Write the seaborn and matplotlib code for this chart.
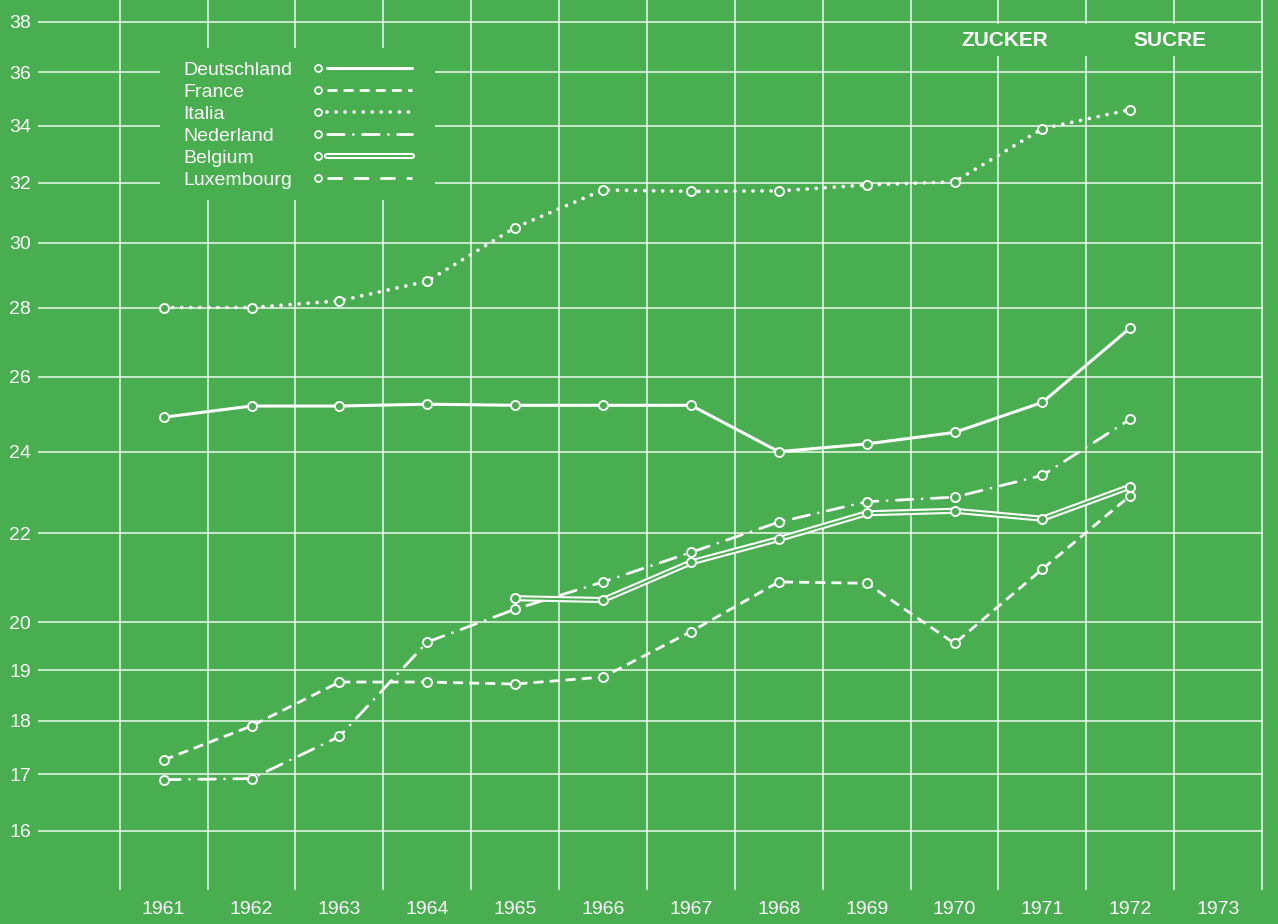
import numpy as np
import matplotlib
matplotlib.use("Agg")
import matplotlib.pyplot as plt
import seaborn as sns
from matplotlib.legend_handler import HandlerBase
from matplotlib.lines import Line2D
from matplotlib.patches import Rectangle
from matplotlib.ticker import FixedLocator, FixedFormatter, NullLocator

years = list(range(1961, 1973))
year_labels = [str(y) for y in range(1961, 1974)]
y_ticks = [16, 17, 18, 19, 20, 22, 24, 26, 28, 30, 32, 34, 36, 38]

deutschland = [24.9, 25.2, 25.2, 25.25, 25.22, 25.22, 25.22, 24.0, 24.2, 24.5, 25.3, 27.4]
france = [17.26, 17.9, 18.76, 18.76, 18.72, 18.86, 19.8, 20.88, 20.85, 19.55, 21.17, 22.9]
italia = [28.0, 28.0, 28.2, 28.8, 30.5, 31.75, 31.7, 31.72, 31.92, 32.03, 33.9, 34.6]
nederland = [16.9, 16.92, 17.7, 19.58, 20.28, 20.88, 21.55, 22.26, 22.75, 22.86, 23.4, 24.85]
belgium = [np.nan, np.nan, np.nan, np.nan, 20.52, 20.48, 21.32, 21.86, 22.47, 22.53, 22.34, 23.12]
series_names = ["Deutschland", "France", "Italia", "Nederland", "Belgium", "Luxembourg"]

BG = "#49ae50"
FG = "white"

sns.set_theme(style="white")
plt.rcParams["font.family"] = ["Liberation Sans", "DejaVu Sans"]

styles = {
    "Deutschland": dict(linestyle="-", lw=2.2),
    "France": dict(linestyle=(0, (3.6, 2.2)), lw=2.0),
    "Italia": dict(linestyle=(0, (0.01, 2.4)), lw=2.7, dash_capstyle="round"),
    "Nederland": dict(linestyle=(0, (6.0, 3.3, 0.01, 3.3)), lw=2.0, dash_capstyle="round"),
    "Belgium": dict(linestyle="-", lw=1.4),
    "Luxembourg": dict(linestyle=(0, (5.5, 4.0)), lw=2.0),
}
marker_kw = dict(marker="o", markersize=6.5, markeredgewidth=1.4,
                 markerfacecolor=BG, markeredgecolor=FG)

fig = plt.figure(figsize=(12.78, 9.24), dpi=100)
fig.patch.set_facecolor(BG)
ax = fig.add_axes([38 / 1278, 34 / 924, 1225 / 1278, 890 / 924])
ax.set_facecolor(BG)

for name, values in [("Deutschland", deutschland), ("France", france),
                     ("Italia", italia), ("Nederland", nederland)]:
    st = styles[name]
    sns.lineplot(x=years, y=values, ax=ax, color=FG, linestyle=st["linestyle"],
                 linewidth=st["lw"], dash_capstyle=st.get("dash_capstyle", "butt"),
                 errorbar=None, zorder=5, **marker_kw)

# Belgium: double line (white stroke with green core)
sns.lineplot(x=years, y=belgium, ax=ax, color=FG, linewidth=4.4, errorbar=None, zorder=5)
sns.lineplot(x=years, y=belgium, ax=ax, color=BG, linewidth=1.4, errorbar=None,
             zorder=6, **marker_kw)

ax.set_yscale("log")
ax.set_ylim(15.02, 38.9)
ax.set_xlim(1959.57, 1973.51)

ax.yaxis.set_major_locator(FixedLocator(y_ticks))
ax.yaxis.set_major_formatter(FixedFormatter([str(v) for v in y_ticks]))
ax.yaxis.set_minor_locator(NullLocator())
ax.xaxis.set_major_locator(FixedLocator(range(1961, 1974)))
ax.xaxis.set_major_formatter(FixedFormatter(year_labels))
ax.xaxis.set_minor_locator(FixedLocator(np.arange(1960.5, 1974, 1.0)))

ax.grid(False)
ax.yaxis.grid(True, which="major", color=FG, lw=1.1, alpha=0.9)
ax.xaxis.grid(True, which="minor", color=FG, lw=1.1, alpha=0.9)
ax.set_axisbelow(True)

ax.tick_params(axis="y", which="both", length=0, pad=5, labelsize=14, labelcolor=FG)
ax.tick_params(axis="x", which="both", length=0, pad=8, labelsize=14, labelcolor=FG)
for s in ax.spines.values():
    s.set_visible(False)
ax.set_xlabel("")
ax.set_ylabel("")

# green bands that hide the grid behind the titles and the legend
ax.add_patch(Rectangle((0.72, 0.937), 0.27, 0.036, transform=ax.transAxes,
                       facecolor=BG, edgecolor="none", zorder=3))
ax.add_patch(Rectangle((0.0996, 0.775), 0.2245, 0.171, transform=ax.transAxes,
                       facecolor=BG, edgecolor="none", zorder=3))
ax.text(0.789, 0.955, "ZUCKER", transform=ax.transAxes, color=FG, fontsize=15,
        fontweight="bold", ha="center", va="center", zorder=4)
ax.text(0.924, 0.955, "SUCRE", transform=ax.transAxes, color=FG, fontsize=15,
        fontweight="bold", ha="center", va="center", zorder=4)


class MarkerThenLine(HandlerBase):
    def __init__(self, style, double=False):
        super().__init__()
        self.style = style
        self.double = double

    def create_artists(self, legend, orig_handle, xdescent, ydescent, width,
                       height, fontsize, trans):
        y = height / 2 - ydescent
        x0 = -xdescent
        arts = []
        xs = [x0 + 9.5, x0 + width]
        if self.double:
            arts.append(Line2D(xs, [y, y], color=FG, lw=4.4))
            arts.append(Line2D(xs, [y, y], color=BG, lw=1.4))
        else:
            arts.append(Line2D(xs, [y, y], color=FG, lw=self.style["lw"],
                               linestyle=self.style["linestyle"],
                               dash_capstyle=self.style.get("dash_capstyle", "butt")))
        arts.append(Line2D([x0 + 3], [y], linestyle="none", marker="o", markersize=5,
                           markeredgewidth=1.3, markerfacecolor=BG, markeredgecolor=FG))
        for a in arts:
            a.set_transform(trans)
        return arts


leg_kw = dict(loc="upper left", borderaxespad=0, borderpad=0, fontsize=14,
              labelspacing=0.23, frameon=False)
legend_top = 1 - 61 / 890

# labels column
text_handles = [Line2D([], [], lw=0) for _ in series_names]
leg_text = ax.legend(text_handles, series_names, bbox_to_anchor=((183 - 38) / 1225, legend_top),
                     handlelength=0, handletextpad=0, **leg_kw)
for t in leg_text.get_texts():
    t.set_color(FG)
leg_text.set_zorder(4)
ax.add_artist(leg_text)

# marker + line samples column
handles = [Line2D([], []) for _ in series_names]
hmap = {h: MarkerThenLine(styles[n], double=(n == "Belgium"))
        for h, n in zip(handles, series_names)}
leg_lines = ax.legend(handles, [""] * len(series_names), handler_map=hmap,
                      bbox_to_anchor=((314 - 38) / 1225, legend_top),
                      handlelength=5.04, handletextpad=0, **leg_kw)
leg_lines.set_zorder(4)

fig.savefig("out.png", dpi=100, facecolor=BG)
